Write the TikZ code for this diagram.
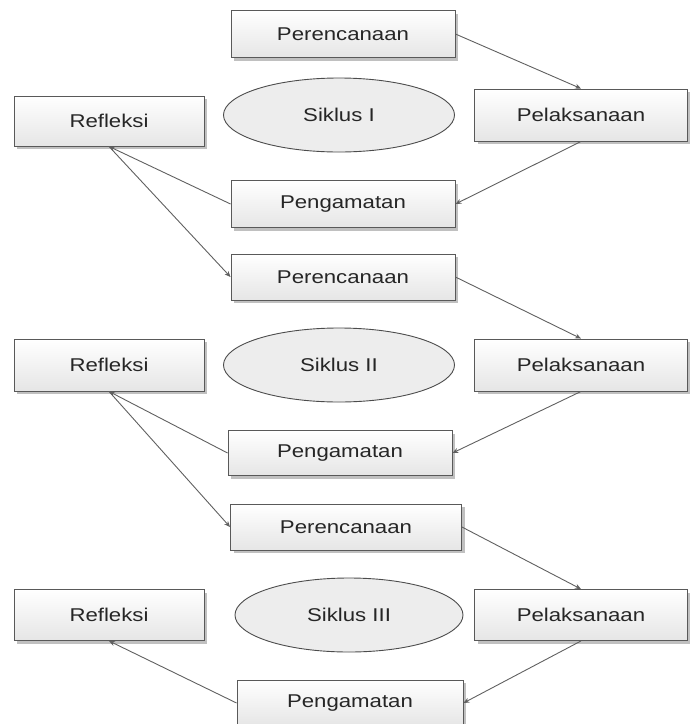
\documentclass[tikz,border=0pt]{standalone}
\usepackage{fontspec}
\setmainfont{Liberation Sans}[FakeStretch=1.2]
\usepackage{tikz}
\usetikzlibrary{shapes.geometric,shadows,arrows.meta}

\tikzset{
every picture/.style={
line width=0.9pt
},
stagebox/.style={draw=gray!70!black, rectangle, top color=white, bottom color=gray!20,
  text=black!85, font=\fontsize{18.5}{21}\selectfont,
  drop shadow={shadow xshift=3pt, shadow yshift=-3pt, fill=gray!55, opacity=0.9}},
cyclebox/.style={draw=gray!60!black, ellipse, fill=gray!14, text=black!85,
  font=\fontsize{18.5}{21}\selectfont, minimum width=231pt, minimum height=74pt},
flow/.style={draw=gray!75!black, -{Stealth[length=6pt,width=5pt]}}
}

\begin{document}
\begin{tikzpicture}[x=1pt, y=-1pt]
  \useasboundingbox (0,0) rectangle (690,724);

  \node[stagebox, minimum width=224pt, minimum height=47pt] (per1) at (343,34) {Perencanaan};
  \node[stagebox, minimum width=190pt, minimum height=50pt] (ref1) at (109,121) {Refleksi};
  \node[cyclebox] (sik1) at (339,115) {Siklus I};
  \node[stagebox, minimum width=213pt, minimum height=52pt] (pel1) at (581,115) {Pelaksanaan};
  \node[stagebox, minimum width=224pt, minimum height=47pt] (pen1) at (343,204) {Pengamatan};

  \node[stagebox, minimum width=224pt, minimum height=46pt] (per2) at (343,277) {Perencanaan};
  \node[stagebox, minimum width=190pt, minimum height=52pt] (ref2) at (109,365) {Refleksi};
  \node[cyclebox] (sik2) at (339,365) {Siklus II};
  \node[stagebox, minimum width=213pt, minimum height=52pt] (pel2) at (581,365) {Pelaksanaan};
  \node[stagebox, minimum width=224pt, minimum height=45pt] (pen2) at (340,453) {Pengamatan};

  \node[stagebox, minimum width=231pt, minimum height=46pt] (per3) at (346,527) {Perencanaan};
  \node[stagebox, minimum width=190pt, minimum height=51pt] (ref3) at (109,615) {Refleksi};
  \node[cyclebox, minimum width=228pt] (sik3) at (349,615) {Siklus III};
  \node[stagebox, minimum width=213pt, minimum height=51pt] (pel3) at (581,615) {Pelaksanaan};
  \node[stagebox, minimum width=226pt, minimum height=46pt] (pen3) at (350,703) {Pengamatan};

  \draw[flow] (per1.east) -- (pel1.north);
  \draw[flow] (pel1.south) -- (pen1.east);
  \draw[flow] (pen1.west) -- (ref1.south);
  \draw[flow] (ref1.south) -- (per2.west);

  \draw[flow] (per2.east) -- (pel2.north);
  \draw[flow] (pel2.south) -- (pen2.east);
  \draw[flow] (pen2.west) -- (ref2.south);
  \draw[flow] (ref2.south) -- (per3.west);

  \draw[flow] (per3.east) -- (pel3.north);
  \draw[flow] (pel3.south) -- (pen3.east);
  \draw[flow] (pen3.west) -- (ref3.south);
\end{tikzpicture}
\end{document}
